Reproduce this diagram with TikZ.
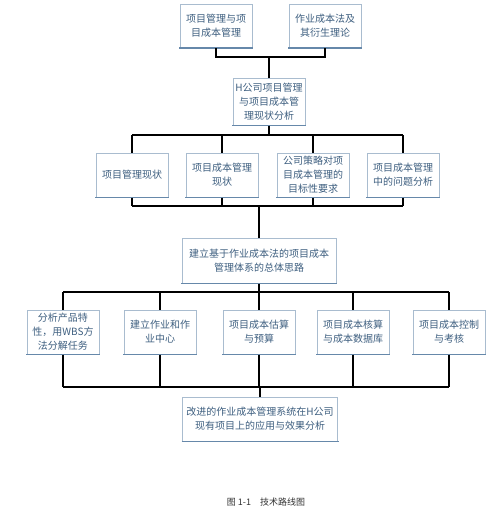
\documentclass[tikz,border=0pt]{standalone}
\usepackage{fontspec}
\setmainfont{Noto Sans CJK SC}
\usepackage{xcolor}
\usetikzlibrary{positioning,calc}
\definecolor{boxline}{HTML}{A9BCCF}
\definecolor{boxshade}{HTML}{6688AA}
\definecolor{boxtext}{HTML}{3E5F80}
\begin{document}
\begin{tikzpicture}[x=1pt, y=-1pt,
    box/.style={draw=boxline, line width=1pt, fill=white, text=boxtext, align=center,
        font=\fontsize{10}{14}\selectfont, minimum width=72pt, minimum height=44pt, inner sep=2pt},
    edge/.style={draw=boxshade, line width=1.6pt},
    link/.style={line width=1.1pt, black}]
    \useasboundingbox (0,0) rectangle (500,509);

    % theory
    \node [box, minimum height=43pt] (theory1) at (216, 26) {项目管理与项\\目成本管理};
    \node [box, minimum height=43pt] (theory2) at (325, 26) {作业成本法及\\其衍生理论};
    \node [box, minimum height=47pt] (status) at (269, 101.5) {H公司项目管理\\与项目成本管\\理现状分析};

    % current state
    \node [box] (pm) at (132, 175) {项目管理现状};
    \node [box] (pcm) at (222, 175) {项目成本管理\\现状};
    \node [box] (goal) at (313, 175) {公司策略对项\\目成本管理的\\目标性要求};
    \node [box] (issue) at (403, 175) {项目成本管理\\中的问题分析};

    % overall idea
    \node [box, minimum width=154pt, minimum height=45pt] (idea) at (259, 260.5) {建立基于作业成本法的项目成本\\管理体系的总体思路};

    % system parts
    \node [box] (wbs) at (63, 332) {分析产品特\\性，用WBS方\\法分解任务};
    \node [box] (center) at (160, 332) {建立作业和作\\业中心};
    \node [box] (budget) at (259, 332) {项目成本估算\\与预算};
    \node [box] (account) at (353, 332) {项目成本核算\\与成本数据库};
    \node [box] (control) at (449, 332) {项目成本控制\\与考核};

    % application
    \node [box, minimum width=155pt] (apply) at (260, 419) {改进的作业成本管理系统在H公司\\现有项目上的应用与效果分析};

    % darker lower edges
    \foreach \n in {theory1, theory2, status, pm, pcm, goal, issue, idea, wbs, center, budget, account, control, apply} {
        \draw [edge] ([xshift=-0.5pt]\n.south west) -- ([xshift=0.5pt]\n.south east);
    }

    % buses
    \coordinate (bus1) at (0, 57);
    \coordinate (bus2) at (0, 135);
    \coordinate (bus3) at (0, 206);
    \coordinate (bus4) at (0, 292);
    \coordinate (bus5) at (0, 387);

    \draw [link] (theory1.south) -- (theory1.south |- bus1) -- (theory2.south |- bus1) -- (theory2.south);
    \draw [link] (status.north |- bus1) -- (status.north);

    \draw [link] (status.south) -- (status.south |- bus2);
    \draw [link] (pm.north |- bus2) -- (issue.north |- bus2);
    \draw [link] (pm.south |- bus3) -- (issue.south |- bus3);
    \foreach \n in {pm, pcm, goal, issue} {
        \draw [link] (\n.north) -- (\n.north |- bus2);
        \draw [link] (\n.south) -- (\n.south |- bus3);
    }
    \draw [link] (idea.north |- bus3) -- (idea.north);

    \draw [link] (idea.south) -- (idea.south |- bus4);
    \draw [link] (wbs.north |- bus4) -- (control.north |- bus4);
    \draw [link] (wbs.south |- bus5) -- (control.south |- bus5);
    \foreach \n in {wbs, center, budget, account, control} {
        \draw [link] (\n.north) -- (\n.north |- bus4);
        \draw [link] (\n.south) -- (\n.south |- bus5);
    }
    \draw [link] (apply.north |- bus5) -- (apply.north);

    % caption
    \node [font=\fontsize{9}{11}\selectfont, text=black!80] (caption) at (266, 502) {图 1-1\quad 技术路线图};
\end{tikzpicture}
\end{document}
